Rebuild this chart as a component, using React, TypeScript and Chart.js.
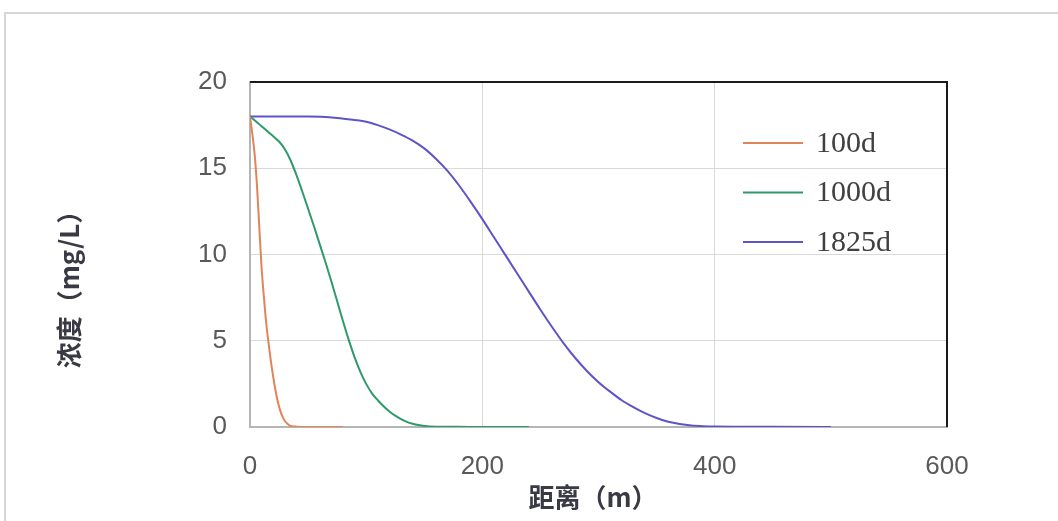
import React, { useEffect, useRef } from "react";
import { Chart, registerables } from "chart.js";

Chart.register(...registerables);

// ---- data ----
const seriesLabels = ["100d", "1000d", "1825d"];
const seriesColors = ["#E0845A", "#2E9A6A", "#5E54C8"];

const dist100 = [0, 2, 4, 6, 8, 10, 12, 14, 16, 18, 20, 22, 24, 26, 28, 30, 32, 34, 36, 40, 50, 80];
const conc100 = [18, 17.0, 15.8, 14.0, 11.6, 9.2, 7.5, 6.0, 4.85, 3.8, 2.9, 2.1, 1.45, 0.95, 0.6, 0.35, 0.2, 0.1, 0.05, 0.02, 0, 0];

const dist1000 = [0, 5, 10, 15, 20, 25, 30, 35, 40, 45, 50, 55, 60, 65, 70, 75, 80, 85, 90, 95, 100, 105, 110, 115, 120, 125, 130, 135, 140, 145, 150, 160, 180, 200, 240];
const conc1000 = [18, 17.72, 17.44, 17.15, 16.85, 16.55, 16.1, 15.45, 14.6, 13.65, 12.65, 11.65, 10.6, 9.55, 8.45, 7.3, 6.15, 5.05, 4.05, 3.2, 2.5, 1.95, 1.55, 1.2, 0.9, 0.66, 0.46, 0.3, 0.19, 0.11, 0.06, 0.02, 0.01, 0, 0];

const dist1825 = [0, 25, 50, 75, 90, 100, 110, 120, 130, 140, 150, 160, 170, 180, 190, 200, 210, 220, 230, 240, 250, 260, 270, 280, 290, 300, 310, 320, 330, 340, 350, 360, 370, 380, 390, 400, 450, 500];
const conc1825 = [18, 18, 18, 17.92, 17.8, 17.7, 17.5, 17.25, 16.95, 16.6, 16.15, 15.55, 14.85, 14.0, 13.05, 12.05, 11.0, 9.95, 8.9, 7.85, 6.8, 5.8, 4.85, 4.0, 3.25, 2.6, 2.05, 1.55, 1.15, 0.8, 0.52, 0.3, 0.17, 0.09, 0.05, 0.03, 0.01, 0];

const xTicks = [0, 200, 400, 600];
const yTicks = [0, 5, 10, 15, 20];
const xTitle = "距离（m）";
const yTitle = "浓度（mg/L）";

const allDist = [dist100, dist1000, dist1825];
const allConc = [conc100, conc1000, conc1825];

const framePlugin = {
  id: "frame",
  beforeDraw(chart: any) {
    const ctx = chart.ctx;
    ctx.save();
    ctx.fillStyle = "#ffffff";
    ctx.fillRect(0, 0, chart.width, chart.height);
    ctx.strokeStyle = "#d6d6d6";
    ctx.lineWidth = 2;
    ctx.strokeRect(5, 13, chart.width + 100, chart.height + 100);
    ctx.restore();
  },
  afterDraw(chart: any) {
    const ctx = chart.ctx;
    const a = chart.chartArea;
    ctx.save();
    // top & right plot border
    ctx.strokeStyle = "#1a1a1a";
    ctx.lineWidth = 2;
    ctx.beginPath();
    ctx.moveTo(a.left, a.top);
    ctx.lineTo(a.right, a.top);
    ctx.lineTo(a.right, a.bottom);
    ctx.stroke();

    // axis titles
    ctx.fillStyle = "#3a3a44";
    ctx.font = "bold 26px 'Noto Sans CJK SC'";
    ctx.textAlign = "center";
    ctx.textBaseline = "middle";
    ctx.fillText(xTitle, 593, 497);
    ctx.translate(69, 283);
    ctx.rotate(-Math.PI / 2);
    ctx.fillText(yTitle, 0, 0);
    ctx.restore();

    // legend inside plot
    ctx.save();
    const ds = chart.data.datasets;
    const lx = a.right - 204;
    for (let i = 0; i < ds.length; i++) {
      const y = 143 + i * 49.5;
      ctx.strokeStyle = ds[i].borderColor;
      ctx.lineWidth = 2;
      ctx.beginPath();
      ctx.moveTo(lx, y);
      ctx.lineTo(lx + 60, y);
      ctx.stroke();
      ctx.fillStyle = "#404040";
      ctx.font = "30px 'Liberation Serif'";
      ctx.textAlign = "left";
      ctx.textBaseline = "middle";
      ctx.fillText(ds[i].label, lx + 73, y + 1);
    }
    ctx.restore();
  },
};

export default function App() {
  const ref = useRef<HTMLCanvasElement | null>(null);

  useEffect(() => {
    if (!ref.current) return;
    const datasets = seriesLabels.map((label, i) => ({
      label,
      data: allDist[i].map((x, j) => ({ x, y: allConc[i][j] })),
      borderColor: seriesColors[i],
      backgroundColor: seriesColors[i],
      borderWidth: 2,
      pointRadius: 0,
      fill: false,
      cubicInterpolationMode: "monotone" as const,
    }));

    const chart = new Chart(ref.current, {
      type: "line",
      data: { datasets },
      options: {
        animation: false,
        responsive: false,
        devicePixelRatio: 1,
        layout: { padding: { top: 82, right: 111, left: 0, bottom: 0 } },
        plugins: {
          legend: { display: false },
          title: { display: false },
          tooltip: { enabled: false },
        },
        scales: {
          x: {
            type: "linear",
            min: 0,
            max: 600,
            afterBuildTicks(scale: any) {
              scale.ticks = xTicks.map((v) => ({ value: v }));
            },
            afterFit(scale: any) {
              scale.height = 94;
            },
            ticks: {
              padding: 24,
              color: "#595959",
              font: { family: "'Liberation Sans'", size: 26 },
              maxRotation: 0,
            },
            grid: { color: "#d9d9d9", lineWidth: 1, drawTicks: false },
            border: { color: "#b5b5b5", width: 2 },
          },
          y: {
            type: "linear",
            min: 0,
            max: 20,
            afterBuildTicks(scale: any) {
              scale.ticks = yTicks.map((v) => ({ value: v }));
            },
            afterFit(scale: any) {
              scale.width = 250;
            },
            ticks: {
              padding: 23,
              color: "#595959",
              font: { family: "'Liberation Sans'", size: 26 },
            },
            grid: { color: "#d9d9d9", lineWidth: 1, drawTicks: false },
            border: { color: "#b5b5b5", width: 2 },
          },
        },
      },
      plugins: [framePlugin],
    });
    return () => chart.destroy();
  }, []);

  return (
    <div style={{ position: "fixed", left: 0, top: 0, width: 1058, height: 521 }}>
      <canvas ref={ref} width={1058} height={521} style={{ display: "block" }} />
    </div>
  );
}
